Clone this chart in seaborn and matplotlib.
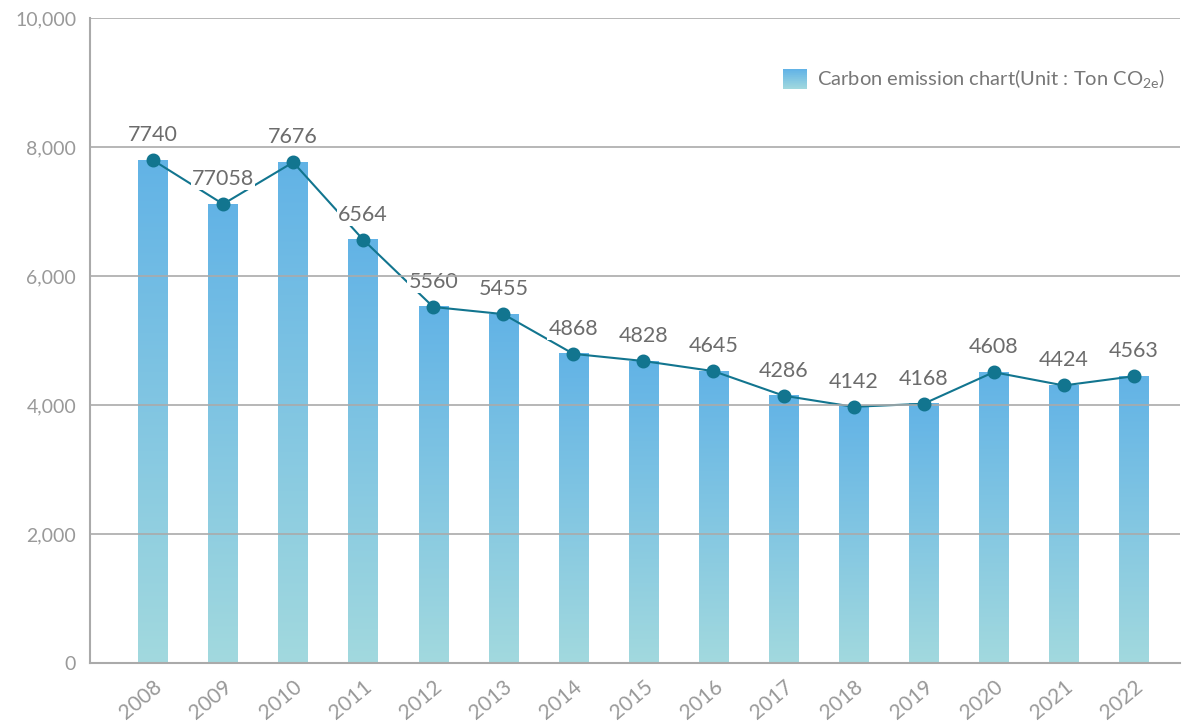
import numpy as np
import pandas as pd
import seaborn as sns
import matplotlib.pyplot as plt
from matplotlib.colors import LinearSegmentedColormap
from matplotlib.legend_handler import HandlerBase
from matplotlib.patches import Rectangle
from matplotlib.ticker import StrMethodFormatter

# data
years = ['2008', '2009', '2010', '2011', '2012', '2013', '2014', '2015',
         '2016', '2017', '2018', '2019', '2020', '2021', '2022']
emissions = [7795, 7115, 7763, 6562, 5520, 5409, 4793, 4682,
             4525, 4145, 3972, 4019, 4509, 4303, 4446]
value_labels = ['7740', '77058', '7676', '6564', '5560', '5455', '4868', '4828',
                '4645', '4286', '4142', '4168', '4608', '4424', '4563']
y_ticks = [0, 2000, 4000, 6000, 8000, 10000]

TOP_BLUE = '#62b3e6'
BOTTOM_TEAL = '#a2d9de'
LINE_COLOR = '#12758f'
bar_cmap = LinearSegmentedColormap.from_list('bars', [BOTTOM_TEAL, TOP_BLUE])


class GradientHandler(HandlerBase):
    """Legend key drawn as a vertical gradient square."""
    def create_artists(self, legend, orig_handle, xdescent, ydescent,
                       width, height, fontsize, trans):
        n = 30
        parts = []
        for k in range(n):
            r = Rectangle((-xdescent, -ydescent + height * k / n), width,
                          height / n * 1.05, facecolor=bar_cmap(k / (n - 1)),
                          edgecolor='none', transform=trans)
            parts.append(r)
        return parts


sns.set_theme(style='white')
plt.rcParams['font.family'] = ['Lato', 'DejaVu Sans']

df = pd.DataFrame({'year': years, 'emission': emissions})

fig = plt.figure(figsize=(11.83, 7.26), dpi=100)
ax = fig.add_axes([90 / 1183, 63 / 726, 1090 / 1183, 645 / 726])

sns.barplot(data=df, x='year', y='emission', color=TOP_BLUE, width=0.42,
            ax=ax, zorder=1)

# swap the flat bars for gradient fills
grad = np.linspace(0, 1, 256).reshape(-1, 1)
for p in list(ax.patches):
    x0, w, h = p.get_x(), p.get_width(), p.get_height()
    ax.imshow(grad, cmap=bar_cmap, origin='lower', aspect='auto',
              extent=[x0, x0 + w, 0, h], zorder=1)
    p.set_visible(False)

# connecting line (under the label boxes), markers drawn again on top
n_before = len(ax.lines)
sns.pointplot(data=df, x='year', y='emission', color=LINE_COLOR,
              markers='', linewidth=1.5, errorbar=None, ax=ax)
for ln in ax.lines[n_before:]:
    ln.set_zorder(4)
n_before = len(ax.lines)
sns.pointplot(data=df, x='year', y='emission', color=LINE_COLOR,
              markers='o', markersize=8, linestyle='none', errorbar=None, ax=ax)
for ln in ax.lines[n_before:]:
    ln.set_zorder(8)

for i, (v, lab) in enumerate(zip(emissions, value_labels)):
    ax.annotate(lab, (i, v), xytext=(0, 18), textcoords='offset points',
                ha='center', va='center', fontsize=15.5, color='#6c6c6c',
                bbox=dict(boxstyle='square,pad=0.05', fc='white', ec='none'),
                zorder=5)

ax.set_xlim(-0.9, 14.66)
ax.set_ylim(0, 10000)
ax.set_yticks(y_ticks)
ax.yaxis.set_major_formatter(StrMethodFormatter('{x:,.0f}'))
ax.set_xlabel('')
ax.set_ylabel('')

ax.grid(axis='y', color='#aaaaaa', linewidth=1.2)
ax.grid(axis='x', visible=False)
# gridlines sit above the label boxes so the boxes only hide the trend line
ax.yaxis.set_zorder(6)
for side in ['top', 'right']:
    ax.spines[side].set_visible(False)
for side in ['left', 'bottom']:
    ax.spines[side].set_color('#aaaaaa')
    ax.spines[side].set_linewidth(1.5)

ax.tick_params(axis='y', length=0, pad=10, labelsize=14, labelcolor='#999999')
ax.tick_params(axis='x', length=0, pad=10, labelsize=15, labelcolor='#999999')
plt.setp(ax.get_xticklabels(), rotation=40, ha='right', va='top',
         rotation_mode='anchor')

legend_key = Rectangle((0, 0), 1, 1)
leg = fig.legend([legend_key], ['Carbon emission chart(Unit : Ton CO$_{\\mathregular{2e}}$)'],
                 handler_map={Rectangle: GradientHandler()},
                 loc='upper left', bbox_to_anchor=(783 / 1183, 1 - 68 / 726),
                 frameon=False, borderpad=0, borderaxespad=0,
                 handlelength=1.2, handleheight=1.15, handletextpad=0.5,
                 fontsize=14.5)
for t in leg.get_texts():
    t.set_color('#777777')

fig.savefig('out.png', dpi=100)
